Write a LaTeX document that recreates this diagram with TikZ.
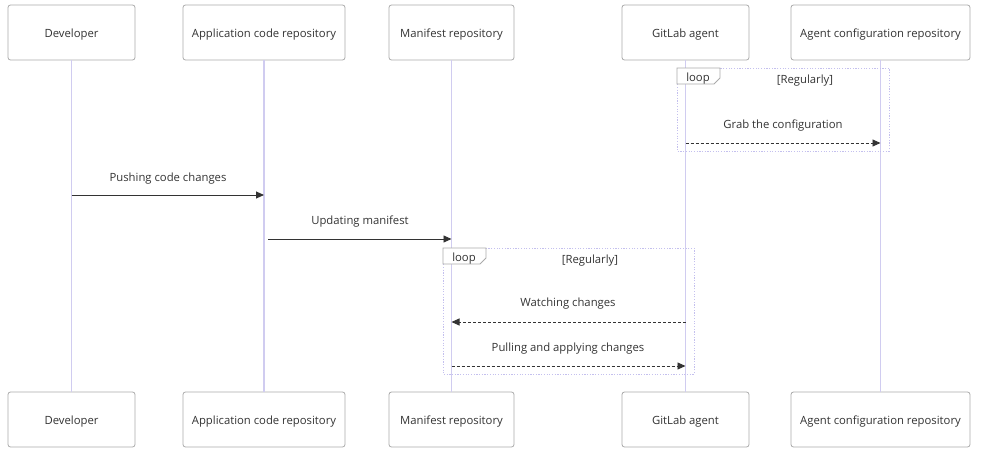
\documentclass[tikz,border=0pt]{standalone}
\usepackage{fontspec}
\setmainfont{Open Sans}
\usetikzlibrary{arrows.meta,positioning}

\definecolor{lifecol}{RGB}{208,204,240}
\definecolor{boxcol}{RGB}{170,170,170}
\definecolor{txtcol}{RGB}{51,51,51}
\definecolor{loopcol}{RGB}{196,192,238}

\begin{document}
\begin{tikzpicture}[x=1pt,y=-1pt,font=\fontsize{11.3}{13}\selectfont,text=txtcol]
   \tikzstyle{actor}=[draw=boxcol,rounded corners=2.5pt,fill=white,minimum height=55pt,inner sep=0pt,line width=0.8pt,text height=10pt,text depth=0pt]
   \tikzstyle{life}=[draw=lifecol,line width=1.8pt]
   \tikzstyle{msg}=[draw=txtcol,line width=0.9pt,-{Triangle[length=8pt,width=7pt]}]
   \tikzstyle{reply}=[msg,dash pattern=on 3pt off 2pt]
   \tikzstyle{loopbox}=[draw=loopcol,line width=0.9pt,dash pattern=on 1.2pt off 1.5pt]
   \tikzstyle{looptab}=[draw=boxcol,fill=white,line width=0.8pt]

   \useasboundingbox (0,0) rectangle (987,452);

   % participants, top row
   \node[actor,minimum width=127pt] (A) at (71.5,32.5)  {Developer};
   \node[actor,minimum width=162pt] (B) at (264,32.5)   {Application code repository};
   \node[actor,minimum width=125pt] (C) at (451.5,32.5) {Manifest repository};
   \node[actor,minimum width=127pt] (D) at (685.5,32.5) {GitLab agent};
   \node[actor,minimum width=179pt] (E) at (880.5,32.5) {Agent configuration repository};

   % participants, bottom row
   \node[actor,minimum width=127pt] (A2) at (71.5,419.5)  {Developer};
   \node[actor,minimum width=162pt] (B2) at (264,419.5)   {Application code repository};
   \node[actor,minimum width=125pt] (C2) at (451.5,419.5) {Manifest repository};
   \node[actor,minimum width=127pt] (D2) at (685.5,419.5) {GitLab agent};
   \node[actor,minimum width=179pt] (E2) at (880.5,419.5) {Agent configuration repository};

   % lifelines
   \path[life] (A) -- (A2)  (B) -- (B2)  (C) -- (C2)  (D) -- (D2)  (E) -- (E2);

   % first loop
   \draw[loopbox] (677,68) rectangle (889,151);
   \draw[looptab] (677,68) -- (720,68) -- (720,78) -- (714,84) -- (677,84) -- cycle;
   \node (L1) at (698,79) {loop};
   \node (R1) at (805,81) {[Regularly]};

   \coordinate (m1s) at (685.5,143);
   \coordinate (m1e) at (880.5,143);
   \node (t1) at (783,126) {Grab the configuration};
   \draw[reply] (m1s) -- (m1e);

   % code changes
   \coordinate (m2s) at (71.5,195);
   \coordinate (m2e) at (264,195);
   \node (t2) at (168,179) {Pushing code changes};
   \draw[msg] (m2s) -- (m2e);

   \coordinate (m3s) at (268,239);
   \coordinate (m3e) at (451.5,239);
   \node (t3) at (360,222) {Updating manifest};
   \draw[msg] (m3s) -- (m3e);

   % second loop
   \draw[loopbox] (443,248) rectangle (694,374);
   \draw[looptab] (443,248) -- (486,248) -- (486,258) -- (480,264) -- (443,264) -- cycle;
   \node (L2) at (464,259) {loop};
   \node (R2) at (590,261) {[Regularly]};

   \coordinate (m4s) at (685.5,322);
   \coordinate (m4e) at (451.5,322);
   \node (t4) at (568,304) {Watching changes};
   \draw[reply] (m4s) -- (m4e);

   \coordinate (m5s) at (451.5,366);
   \coordinate (m5e) at (685.5,366);
   \node (t5) at (568,349) {Pulling and applying changes};
   \draw[reply] (m5s) -- (m5e);
\end{tikzpicture}
\end{document}
